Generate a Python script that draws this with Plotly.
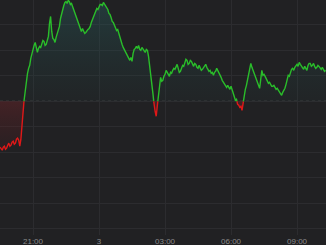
import plotly.graph_objects as go
import pandas as pd

# Session start and sampling interval (minutes)
start_time = "2024-03-02 19:30"
step_minutes = 3

# Change vs previous close (points)
change = [
    -46, -48, -49, -46, -45, -48, -47, -44, -42, -45,
    -44, -41, -40, -43, -42, -38, -37, -39, -45, -38,
    -21, -8, 2, 9, 19, 28, 33, 36, 43, 48,
    51, 56, 59, 52, 49, 53, 55, 54, 57, 61,
    60, 56, 57, 62, 65, 78, 85, 70, 63, 62,
    59, 64, 67, 70, 75, 83, 88, 91, 96, 99,
    100, 98, 101, 100, 97, 98, 95, 90, 88, 86,
    83, 79, 77, 72, 70, 73, 71, 68, 69, 71,
    72, 73, 75, 79, 82, 85, 87, 89, 93, 92,
    95, 97, 97, 96, 99, 97, 95, 94, 92, 88,
    87, 84, 80, 79, 76, 72, 71, 72, 68, 63,
    61, 57, 54, 52, 50, 47, 46, 43, 41, 44,
    40, 48, 52, 53, 55, 53, 56, 52, 51, 54,
    52, 50, 49, 52, 51, 45, 37, 28, 19, 8,
    -3, -10, -15, -4, 5, 15, 24, 20, 21, 25,
    27, 31, 29, 26, 25, 29, 28, 31, 33, 32,
    35, 37, 33, 29, 30, 34, 36, 35, 39, 42,
    41, 37, 38, 41, 40, 37, 35, 38, 37, 34,
    33, 36, 34, 31, 32, 34, 35, 37, 34, 32,
    30, 31, 28, 29, 26, 29, 30, 33, 31, 28,
    26, 24, 21, 19, 17, 16, 14, 16, 13, 12,
    15, 11, 9, 5, 1, 2, -3, -4, -6, -5,
    -9, -2, 6, 12, 16, 22, 29, 35, 38, 34,
    31, 28, 25, 23, 20, 17, 13, 22, 31, 26,
    27, 25, 22, 20, 18, 19, 17, 15, 15, 16,
    14, 12, 13, 11, 10, 8, 6, 9, 11, 13,
    17, 21, 26, 25, 29, 32, 33, 31, 34, 36,
    37, 35, 39, 37, 35, 33, 32, 35, 33, 31,
    36, 38, 38, 35, 36, 38, 35, 33, 34, 36,
    35, 33, 32, 34, 31, 30, 31,
]
baseline = 0

tick_times = ["2024-03-02 21:00", "2024-03-03 00:00", "2024-03-03 03:00",
              "2024-03-03 06:00", "2024-03-03 09:00"]
tick_labels = ["21:00", "3", "03:00", "06:00", "09:00"]

x_start = "2024-03-02 19:30"
x_end = "2024-03-03 10:19"

t0 = pd.Timestamp(start_time)
times = [t0 + pd.Timedelta(minutes=step_minutes * i) for i in range(len(change))]

# split into above/below baseline segments (crossing points for colour switch)
segments = []
cur = [(times[0], change[0])]
for i in range(1, len(change)):
    a_t, a_v = times[i - 1], change[i - 1]
    b_t, b_v = times[i], change[i]
    if (a_v >= baseline) != (b_v >= baseline):
        f = (a_v - baseline) / (a_v - b_v)
        c_t = a_t + (b_t - a_t) * f
        cur.append((c_t, baseline))
        segments.append(cur)
        cur = [(c_t, baseline)]
    cur.append((b_t, b_v))
segments.append(cur)

fig = go.Figure()
for seg in segments:
    vals = [p[1] for p in seg]
    up = sum(vals) >= 0
    if up:
        color = "#2abd2a"
        grad = dict(type="vertical", start=0, stop=101,
                    colorscale=[[0, "rgba(35,70,70,0.10)"], [1, "rgba(40,95,95,0.42)"]])
    else:
        color = "#e01818"
        grad = dict(type="vertical", start=-60, stop=0,
                    colorscale=[[0, "rgba(90,25,30,0.05)"], [1, "rgba(110,35,40,0.45)"]])
    fig.add_trace(go.Scatter(
        x=[p[0] for p in seg], y=vals, mode="lines",
        line=dict(color=color, width=1.4),
        fill="tozeroy", fillgradient=grad,
        hoverinfo="skip", showlegend=False,
    ))

fig.add_shape(type="line", xref="paper", x0=0, x1=1, yref="y", y0=baseline, y1=baseline,
              line=dict(color="#5a5a5c", width=1, dash="dot"), layer="below")

fig.update_layout(
    width=326, height=245,
    margin=dict(l=0, r=0, t=0, b=10),
    paper_bgcolor="#212123", plot_bgcolor="#212123",
    xaxis=dict(range=[x_start, x_end], tickvals=tick_times, ticktext=tick_labels,
               showgrid=True, gridcolor="#2c2c2f", gridwidth=1, zeroline=False,
               ticks="", showline=False,
               tickfont=dict(family="Liberation Sans", size=8, color="#8a8a8a")),
    yaxis=dict(range=[-134, 101.5], showticklabels=False, tick0=0, dtick=25.5,
               showgrid=True, gridcolor="#2c2c2f", gridwidth=1, zeroline=False),
)

fig.write_html("out.html")
